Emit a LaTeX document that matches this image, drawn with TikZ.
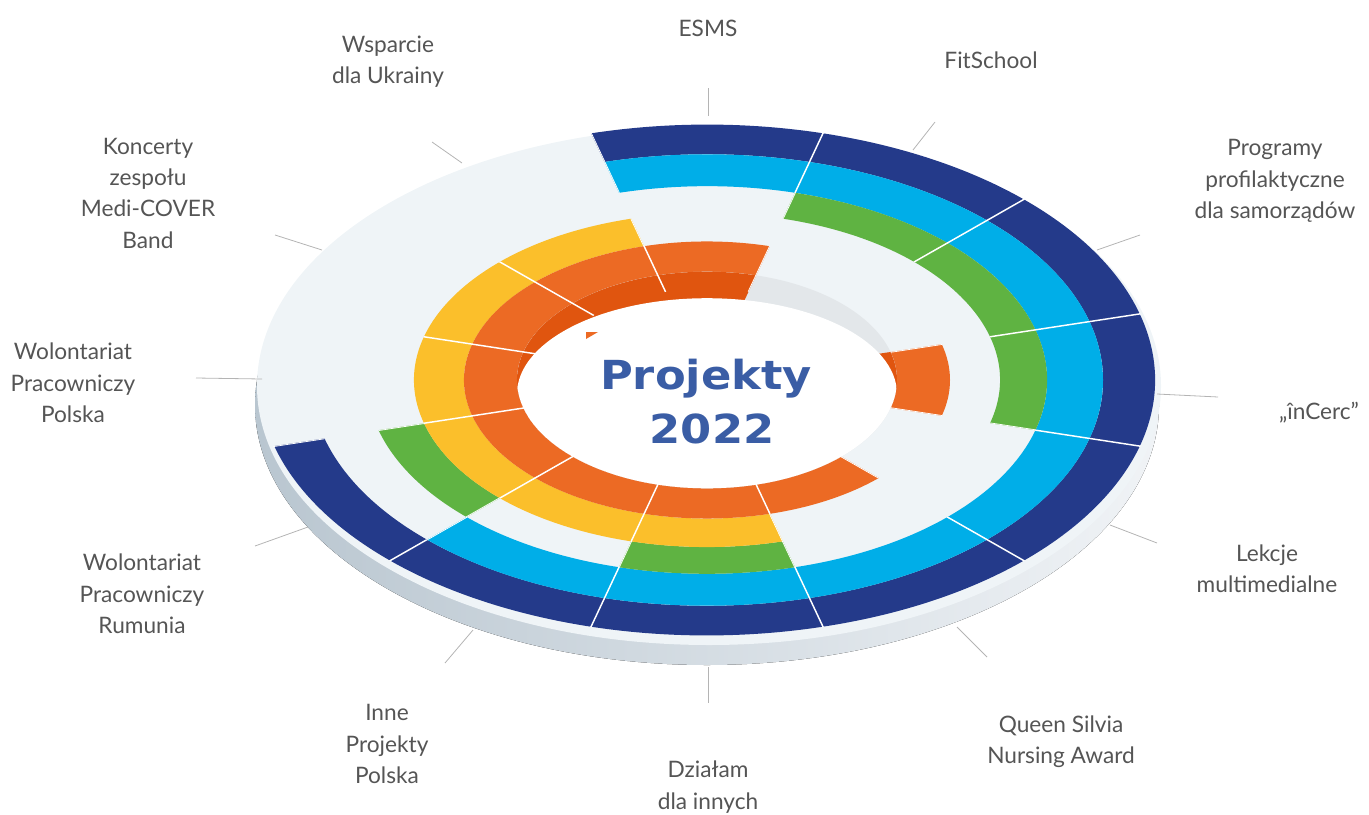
\documentclass[tikz,border=0pt]{standalone}
\usepackage{fontspec}
\setmainfont{Lato}
\newfontfamily\titlefont[FakeStretch=1.12]{DejaVu Sans}
\usepackage{tikz}
\usepackage{xcolor}

\definecolor{ringDarkBlue}{HTML}{243A8A}
\definecolor{ringCyan}{HTML}{00AEE8}
\definecolor{ringGreen}{HTML}{5FB342}
\definecolor{ringYellow}{HTML}{FBBF2B}
\definecolor{ringOrange}{HTML}{EC6A24}
\definecolor{wallOrange}{HTML}{E0550F}
\definecolor{wallGray}{HTML}{E3E7EA}
\definecolor{discTop}{HTML}{EFF4F7}
\definecolor{sideLeft}{HTML}{B9C6D0}
\definecolor{sideRight}{HTML}{F0F3F6}
\definecolor{tickGray}{HTML}{B4B4B4}
\definecolor{labelGray}{HTML}{555555}
\definecolor{titleBlue}{HTML}{3A5DA5}

% outline of one piece of a ring: start angle, end angle, inner radius, outer radius
\newcommand{\ringpath}[4]{(#1:#4) arc[start angle=#1,end angle=#2,radius=#4] -- (#2:#3) arc[start angle=#2,end angle=#1,radius=#3] -- cycle}

\begin{document}
\begin{tikzpicture}[x=0.75pt,y=0.75pt,yscale=-1,xscale=1,
    lbl/.style={anchor=center,inner sep=0.75pt,align=center,text=labelGray,font=\fontsize{17}{23.5}\selectfont},
    leader/.style={draw=tickGray,line width=0.6pt},
    divider/.style={draw=white,line width=1.1pt},
    titletext/.style={inner sep=0pt,text=titleBlue,font=\titlefont\bfseries\fontsize{30}{36}\selectfont}]
    \useasboundingbox (0,0) rectangle (1369,814);

    %Shape: side of the disc
    \fill [left color=sideLeft,right color=sideRight] (707,405) ellipse [x radius=452,y radius=260];
    %Shape: top of the disc
    \fill [discTop] (709,386) ellipse [x radius=452,y radius=259];

    %Rings, seen at a slant
    \begin{scope}[shift={(707,380)},yscale=-0.57]
        % dark blue
        \fill [ringDarkBlue] \ringpath{-165}{105}{396}{448};
        % light blue
        \fill [ringCyan] \ringpath{-135}{105}{340}{396};
        % green
        \fill [ringGreen] \ringpath{-15}{75}{293}{340} \ringpath{-165}{-135}{293}{340} \ringpath{-105}{-75}{293}{340};
        % yellow
        \fill [ringYellow] \ringpath{105}{285}{243}{293};
        % orange
        \fill [ringOrange] \ringpath{75}{315}{190}{243} \ringpath{-15}{15}{190}{243};

        % hole in the middle, with its wall
        \fill [wallGray] (0,0) circle [radius=190];
        \fill [wallOrange] (0,0) -- (75:190) arc[start angle=75,end angle=315,radius=190] -- cycle;
        \fill [wallOrange] (0,0) -- (-15:190) arc[start angle=-15,end angle=15,radius=190] -- cycle;
        \begin{scope}
            \clip (0,0) circle [radius=190];
            \fill [white] (0,-24.5) ellipse [x radius=190,y radius=168];
        \end{scope}

        % sector borders, only on the coloured parts
        \begin{scope}
            \clip \ringpath{-165}{105}{396}{449} \ringpath{-135}{105}{340}{396}
                  \ringpath{-15}{75}{293}{340} \ringpath{-165}{-135}{293}{340} \ringpath{-105}{-75}{293}{340}
                  \ringpath{105}{285}{243}{293} \ringpath{75}{315}{160}{243} \ringpath{-15}{15}{190}{243};
            \foreach \a in {15,45,...,345}
                \draw [divider] (\a:160) -- (\a:449);
        \end{scope}
    \end{scope}

    %Shape: small orange mark
    \fill [ringOrange] (586,332) -- (598,332) -- (586,339) -- cycle;

    % Text Node
    \node [titletext,anchor=base] (titleA) at (706,389) {Projekty};
    % Text Node
    \node [titletext,anchor=base] (titleB) at (712,443) {2022};

    %Straight Lines
    \draw [leader] (708,88) -- (708,116);
    \draw [leader] (913,150) -- (935,122);
    \draw [leader] (1097,250) -- (1140,235);
    \draw [leader] (1157,394) -- (1218,397);
    \draw [leader] (1110,525) -- (1157,543);
    \draw [leader] (957,627) -- (987,657);
    \draw [leader] (708,667) -- (708,703);
    \draw [leader] (473,630) -- (445,663);
    \draw [leader] (308,527) -- (255,546);
    \draw [leader] (196,378) -- (262,379);
    \draw [leader] (275,235) -- (322,250);
    \draw [leader] (432,142) -- (462,163);

    % Text Nodes
    \node [lbl] (esms) at (708,28) {ESMS};
    \node [lbl] (fitschool) at (991,60) {FitSchool};
    \node [lbl] (programy) at (1275,181) {Programy\\profilaktyczne\\dla samorządów};
    \node [lbl] (incerc) at (1319,413) {„înCerc”};
    \node [lbl] (lekcje) at (1267,569) {Lekcje\\multimedialne};
    \node [lbl] (queen) at (1061,742) {Queen Silvia\\Nursing Award};
    \node [lbl] (dzialam) at (708,787) {Działam\\dla innych};
    \node [lbl] (inne) at (387,744) {Inne\\Projekty\\Polska};
    \node [lbl] (rumunia) at (142,594) {Wolontariat\\Pracowniczy\\Rumunia};
    \node [lbl] (polska) at (73,383) {Wolontariat\\Pracowniczy\\Polska};
    \node [lbl] (koncerty) at (148,193) {Koncerty\\zespołu\\Medi-COVER\\Band};
    \node [lbl] (wsparcie) at (388,62) {Wsparcie\\dla Ukrainy};

\end{tikzpicture}
\end{document}
